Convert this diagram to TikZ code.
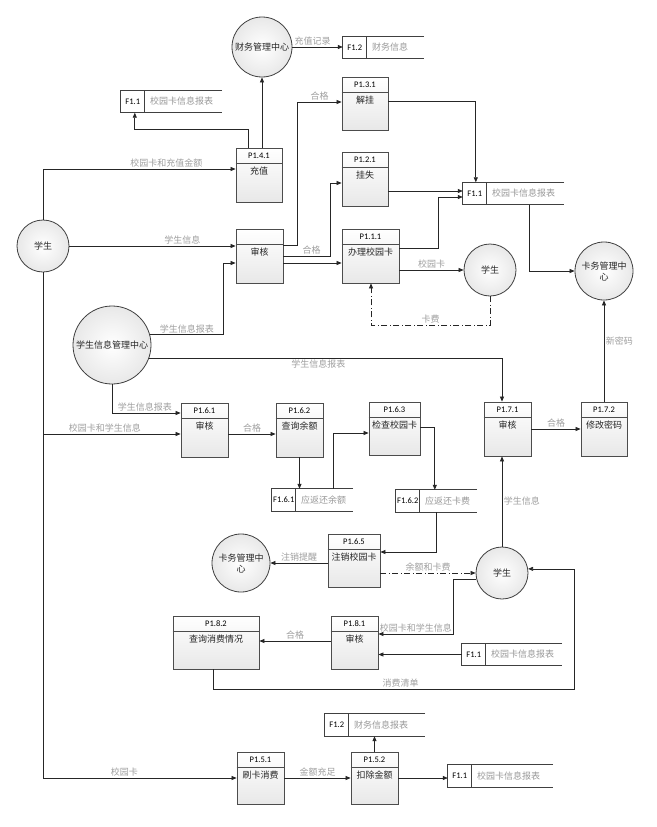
\documentclass[tikz,border=0pt]{standalone}
\usepackage{fontspec}
\setmainfont{Noto Sans CJK SC}
\newfontfamily\idfont{Carlito}
\usetikzlibrary{arrows.meta,shadows}

% proceso: nombre, centro, ancho, alto, id, texto
\newcommand{\proceso}[6]{%
  \node[proc, minimum width=#3, minimum height=#4] (#1) at (#2) {};
  \draw[proclinea] ([yshift=-16]#1.north west) -- ([yshift=-16]#1.north east);
  \node[pid] (#1id) at ([yshift=-8]#1.north) {#5};
  \node[ptxt] (#1tx) at ([yshift=-18]#1.north) {#6};
}
% almacen: nombre, centro, ancho, id, texto
\newcommand{\almacen}[5]{%
  \node[almnodo, minimum width=#3] (#1) at (#2) {};
  \draw[almlinea] (#1.north east) -- (#1.north west) -- (#1.south west) -- (#1.south east);
  \draw[almlinea] ([xshift=24]#1.north west) -- ([xshift=24]#1.south west);
  \node[fid] (#1id) at ([xshift=12]#1.west) {#4};
  \node[ftxt, anchor=west] (#1tx) at ([xshift=29]#1.west) {#5};
}

\begin{document}
\begin{tikzpicture}[x=1pt, y=-1pt,
    proc/.style={draw=gray!60!black, line width=0.8pt, top color=white, bottom color=gray!18,
      drop shadow={opacity=0.25, shadow xshift=1.2pt, shadow yshift=-1.2pt}, inner sep=0pt},
    proclinea/.style={draw=gray!60!black, line width=0.8pt},
    pid/.style={font=\idfont\fontsize{8.5}{10}\selectfont, inner sep=0pt},
    ptxt/.style={anchor=north, font=\fontsize{9}{10}\selectfont, text=gray!30!black, inner sep=1pt},
    ent/.style={circle, draw=gray!50!black, line width=0.8pt, inner color=white, outer color=gray!18,
      align=center, font=\fontsize{9}{11}\selectfont, text=gray!30!black, inner sep=0pt},
    almnodo/.style={minimum height=22, inner sep=0pt},
    almlinea/.style={draw=gray!50!black, line width=0.9pt},
    fid/.style={font=\idfont\fontsize{8.5}{10}\selectfont, inner sep=0pt},
    ftxt/.style={font=\fontsize{9}{10}\selectfont, text=gray!80, inner sep=0pt},
    flujo/.style={draw=gray!30!black, line width=0.7pt, -{Triangle[length=5pt, width=4pt]}},
    trazo/.style={flujo, dash pattern=on 6pt off 2.5pt on 1pt off 2.5pt},
    lbl/.style={font=\fontsize{9}{10}\selectfont, text=gray!75, inner sep=1.5pt}
  ]

  \path[fill=white, use as bounding box] (0,0) rectangle (656,827);

  % Entidades
  \node[ent, minimum size=60] (cwzx) at (262,47) {财务管理中心};
  \node[ent, minimum size=52] (xs1) at (43,246) {学生};
  \node[ent, minimum size=78] (xsxx) at (112,345) {学生信息管理中心};
  \node[ent, minimum size=52] (xs2) at (490,270) {学生};
  \node[ent, minimum size=58] (kwzx1) at (604,271) {卡务管理中\\心};
  \node[ent, minimum size=58] (kwzx2) at (241,563) {卡务管理中\\心};
  \node[ent, minimum size=52] (xs3) at (502,573) {学生};

  % Procesos
  \proceso{p141}{259,175}{46}{54}{P1.4.1}{充值}
  \proceso{p131}{365,103.5}{46}{53}{P1.3.1}{解挂}
  \proceso{p121}{365,179}{46}{54}{P1.2.1}{挂失}
  \proceso{sh}{259.5,256}{47}{54}{}{审核}
  \proceso{p111}{370.5,256}{57}{54}{P1.1.1}{办理校园卡}
  \proceso{p161}{204.5,430}{47}{54}{P1.6.1}{审核}
  \proceso{p162}{299.5,430}{47}{54}{P1.6.2}{查询余额}
  \proceso{p163}{394.5,428.5}{51}{53}{P1.6.3}{检查校园卡}
  \proceso{p171}{507.5,429}{47}{54}{P1.7.1}{审核}
  \proceso{p172}{604,429}{46}{54}{P1.7.2}{修改密码}
  \proceso{p165}{354,560.5}{52}{53}{P1.6.5}{注销校园卡}
  \proceso{p182}{216,642.5}{86}{53}{P1.8.2}{查询消费情况}
  \proceso{p181}{354.5,642.5}{47}{53}{P1.8.1}{审核}
  \proceso{p151}{260.5,778}{47}{52}{P1.5.1}{刷卡消费}
  \proceso{p152}{374.5,778}{47}{52}{P1.5.2}{扣除金额}

  % Almacenes
  \almacen{f12a}{383.5,47.5}{81}{F1.2}{财务信息}
  \almacen{f11a}{171.5,101.5}{101}{F1.1}{校园卡信息报表}
  \almacen{f11b}{513.5,193.5}{101}{F1.1}{校园卡信息报表}
  \almacen{f161}{312.5,500}{81}{F1.6.1}{应返还余额}
  \almacen{f162}{436.5,501}{81}{F1.6.2}{应返还卡费}
  \almacen{f11c}{512,654.5}{100}{F1.1}{校园卡信息报表}
  \almacen{f12b}{375,725}{100}{F1.2}{财务信息报表}
  \almacen{f11d}{500.5,776}{105}{F1.1}{校园卡信息报表}

  % Flujos del estudiante
  \draw[flujo] (xs1.north) |- ([yshift=6]p141.west) node[lbl, pos=0.82, above] {校园卡和充值金额};
  \draw[flujo] (xs1.east) -- (xs1.east -| sh.west) node[lbl, pos=0.68, above] {学生信息};
  \draw[flujo] ([yshift=-4]p161.west -| xs1.south) -- ([yshift=-4]p161.west) node[lbl, pos=0.45, above] {校园卡和学生信息};
  \draw[flujo] (xs1.south) |- (p151.west) node[lbl, pos=0.71, above] {校园卡};

  % Centro de informacion
  \draw[flujo] (xsxx.15) -| ([xshift=-12,yshift=-7]sh.west) node[lbl, pos=0.25, above] {学生信息报表} -- ([yshift=-7]sh.west);
  \draw[flujo] (xsxx.south) |- ([yshift=17]p161.west) node[lbl, pos=0.74, above] {学生信息报表};
  \draw[flujo] (xsxx.-20) -| ([xshift=-5.5]p171.north) node[lbl, pos=0.24, below] {学生信息报表};

  % Recarga
  \draw[flujo] ([xshift=3]p141.north) -- (cwzx.south);
  \draw[flujo] ([xshift=-11]p141.north) -- ++(0,-18) -| ([xshift=14]f11a.south west);
  \draw[flujo] (cwzx.east) -- (cwzx.east -| f12a.west) node[lbl, pos=0.4, above] {充值记录};

  % Revision y tarjeta
  \draw[flujo] ([yshift=11]sh.east) -- ++(14,0) |- ([yshift=1.5]p131.west) node[lbl, pos=0.75, above] {合格};
  \draw[flujo] (sh.east) -- ++(47,0) node[lbl, pos=0.6, above] {合格} |- ([yshift=-4]p121.west);
  \draw[flujo] ([yshift=-7]sh.east) -- ([yshift=-7]p111.west);
  \draw[flujo] ([yshift=2.5]p131.east) -| ([xshift=13]f11b.north west);
  \draw[flujo] ([yshift=-12]p121.east) -- ([yshift=-12]p121.east -| f11b.west);
  \draw[flujo] ([yshift=8]p111.east) -- ++(39,0) |- ([yshift=-3.5]f11b.west);
  \draw[flujo] ([xshift=67]f11b.south west) |- (kwzx1.west);
  \draw[flujo] (xs2.west -| p111.east) -- (xs2.west) node[lbl, midway, above] {校园卡};
  \draw[trazo] (xs2.south) -- ++(0,29) -| ([xshift=0.5]p111.south) node[lbl, pos=0.25, above] {卡费};

  % Cambio de clave
  \draw[flujo] (p172.north) -- (kwzx1.south) node[lbl, pos=0.6, right] {新密码};
  \draw[flujo] (p171.east) -- (p172.west) node[lbl, midway, above] {合格};
  \draw[flujo] (xs3.north) -- (xs3.north |- p171.south) node[lbl, midway, right] {学生信息};

  % Baja de tarjeta
  \draw[flujo] ([yshift=-4]p161.east) -- ([yshift=-4]p162.west) node[lbl, midway, above] {合格};
  \draw[flujo] (p162.south) -- (p162.south |- f161.north);
  \draw[flujo] ([xshift=-20]f161.north east) |- ([yshift=-4.5]p163.west);
  \draw[flujo] ([yshift=1.5]p163.east) -| ([xshift=39]f162.north west);
  \draw[flujo] ([xshift=41]f162.south west) |- ([yshift=8.5]p165.east);
  \draw[flujo] (kwzx2.east -| p165.west) -- (kwzx2.east) node[lbl, midway, above] {注销提醒};
  \draw[trazo] (xs3.west -| p165.east) -- (xs3.west) node[lbl, midway, above] {余额和卡费};

  % Consulta de consumo
  \draw[flujo] (xs3.193) -- ++(-23,0) |- ([yshift=8.5]p181.east) node[lbl, pos=0.75, above] {校园卡和学生信息};
  \draw[flujo] (f11c.west) -- (f11c.west -| p181.east);
  \draw[flujo] ([yshift=1.5]p181.west) -- ([yshift=1.5]p181.west -| p182.east) node[lbl, midway, above] {合格};
  \draw[flujo] ([xshift=-3]p182.south) -- ++(0,20) -- ++(361,0) node[lbl, pos=0.52, above] {消费清单} |- (xs3.9);

  % Consumo
  \draw[flujo] (p151.east) -- (p152.west) node[lbl, midway, above] {金额充足};
  \draw[flujo] (p152.north) -- (p152.north |- f12b.south);
  \draw[flujo] (p152.east) -- (p152.east -| f11d.west);

\end{tikzpicture}
\end{document}
